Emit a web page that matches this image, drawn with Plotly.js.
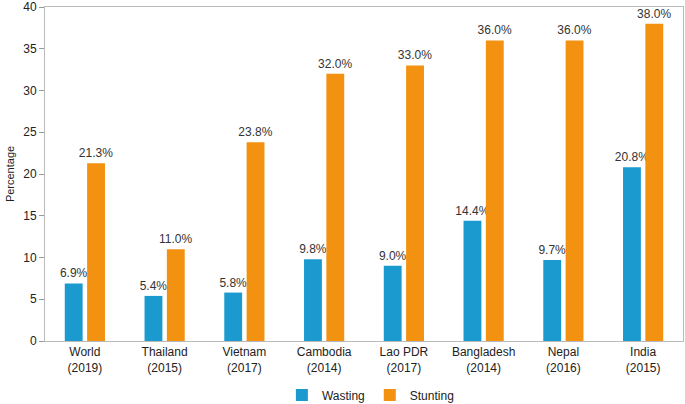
<!DOCTYPE html>
<html><head><meta charset="utf-8">
<script src="https://cdn.plot.ly/plotly-3.0.1.min.js"></script>
<style>html,body{margin:0;padding:0;background:#fff}#c{width:685px;height:404px}</style>
</head><body><div id="c"></div>
<script>
const categories = ["World<br>(2019)","Thailand<br>(2015)","Vietnam<br>(2017)","Cambodia<br>(2014)","Lao PDR<br>(2017)","Bangladesh<br>(2014)","Nepal<br>(2016)","India<br>(2015)"];
const wasting = [6.9, 5.4, 5.8, 9.8, 9.0, 14.4, 9.7, 20.8];
const stunting = [21.3, 11.0, 23.8, 32.0, 33.0, 36.0, 36.0, 38.0];
const yTicks = [0,5,10,15,20,25,30,35,40];

const fnt = {family:"Liberation Sans, Arial, sans-serif", size:12, color:"#222"};
const mk = (name, vals, color) => ({
  type:"bar", name:name, x:categories, y:vals,
  marker:{color:color},
  text: vals.map(v => v.toFixed(1)+"%"), textposition:"outside", constraintext:"none",
  textfont:{family:fnt.family, size:12, color:"#333"},
  cliponaxis:false, hoverinfo:"none"
});
const data = [mk("Wasting", wasting, "#1b9ad0"), mk("Stunting", stunting, "#f39110")];
const layout = {
  width:685, height:404,
  margin:{l:45, r:2, t:7, b:63, autoexpand:false},
  paper_bgcolor:"#fff", plot_bgcolor:"#fff",
  font:fnt,
  barmode:"group", bargap:0.44, bargroupgap:0.2,
  showlegend:true,
  legend:{orientation:"h", x:0.51, xanchor:"center", y:-0.118, yanchor:"top", font:{family:fnt.family,size:12,color:"#222"}},
  xaxis:{showgrid:false, zeroline:false, showline:true, linecolor:"#bbb", mirror:true, ticks:"", tickfont:{family:fnt.family,size:12,color:"#222"}},
  yaxis:{range:[0,40], tickvals:yTicks, showgrid:false, zeroline:false, showline:true, linecolor:"#bbb", mirror:true,
         ticks:"outside", ticklen:5, tickcolor:"#999", ticklabeloverflow:"allow", tickfont:{family:fnt.family,size:12,color:"#222"},
         title:{text:"Percentage", font:{family:fnt.family,size:11,color:"#222"}, standoff:6}}
};
Plotly.newPlot("c", data, layout, {staticPlot:true, displayModeBar:false});
</script></body></html>
